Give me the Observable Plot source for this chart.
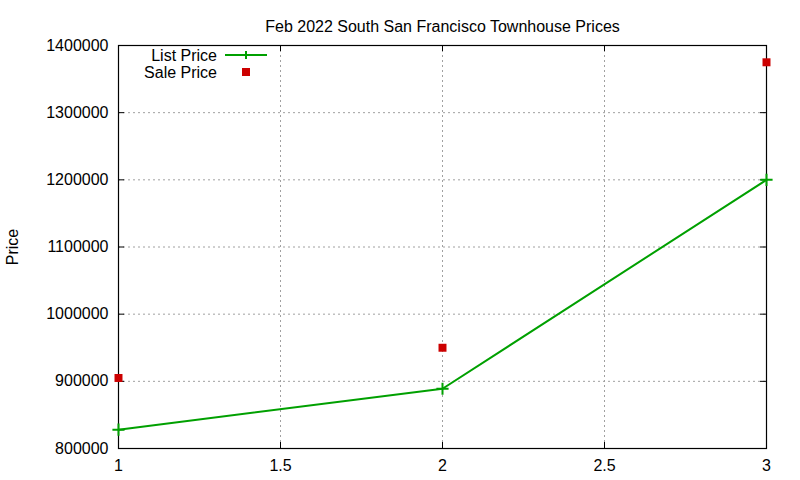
<!DOCTYPE html>
<html>
<head>
<meta charset="utf-8">
<script src="https://cdn.jsdelivr.net/npm/d3@7"></script>
<script src="https://cdn.jsdelivr.net/npm/@observablehq/plot@0.6"></script>
<style>
  html, body { margin: 0; padding: 0; background: #fff; }
  svg { font-family: "Liberation Sans", Arial, sans-serif; }
</style>
</head>
<body>
<div id="chart"></div>
<script>
const title = "Feb 2022 South San Francisco Townhouse Prices";
const bedrooms = [1, 2, 3];
const listPrice = [828000, 889000, 1200000];
const salePrice = [905000, 950000, 1375000];
const xTicks = [1, 1.5, 2, 2.5, 3];
const yTicks = [800000, 900000, 1000000, 1100000, 1200000, 1300000, 1400000];
const seriesNames = ["List Price", "Sale Price"];

const listData = bedrooms.map((b, i) => ({x: b, y: listPrice[i]}));
const saleData = bedrooms.map((b, i) => ({x: b, y: salePrice[i]}));

const green = "#00a000";
const red = "#cc0000";
const W = 800, H = 480, mL = 118, mR = 34, mT = 45, mB = 32;
const fw = W - mL - mR, fh = H - mT - mB;
const tick = 6;

function legend(index, scales, values, dims) {
  const g = d3.create("svg:g");
  const lx = dims.marginLeft;
  const ty = dims.marginTop;
  const rows = [{y: ty + 10, name: seriesNames[0]}, {y: ty + 27, name: seriesNames[1]}];
  rows.forEach((r) => {
    g.append("text").attr("x", lx + 99).attr("y", r.y).attr("dy", "0.35em")
      .attr("text-anchor", "end").attr("font-size", 16).attr("fill", "#000").text(r.name);
  });
  const cx = lx + 128;
  g.append("line").attr("x1", lx + 107).attr("x2", lx + 149).attr("y1", rows[0].y).attr("y2", rows[0].y)
    .attr("stroke", green).attr("stroke-width", 2);
  g.append("path").attr("d", `M${cx - 4},${rows[0].y}H${cx + 4}M${cx},${rows[0].y - 4}V${rows[0].y + 4}`)
    .attr("stroke", green).attr("stroke-width", 2);
  g.append("rect").attr("x", cx - 4).attr("y", rows[1].y - 4).attr("width", 8).attr("height", 8).attr("fill", red);
  return g.node();
}

const chart = Plot.plot({
  width: W, height: H,
  marginLeft: mL, marginRight: mR, marginTop: mT, marginBottom: mB,
  style: {fontFamily: '"Liberation Sans", Arial, sans-serif', fontSize: "16px", color: "#000", background: "#fff"},
  x: {domain: [1, 3]},
  y: {domain: [800000, 1400000]},
  marks: [
    Plot.gridX(xTicks.slice(1, -1), {stroke: "#a0a0a0", strokeOpacity: 1, strokeDasharray: "2,3"}),
    Plot.gridY(yTicks.slice(1, -1), {stroke: "#a0a0a0", strokeOpacity: 1, strokeDasharray: "2,3"}),
    Plot.tickY(yTicks, {y: d => d, stroke: "#000", insetRight: fw - tick}),
    Plot.tickY(yTicks, {y: d => d, stroke: "#000", insetLeft: fw - tick}),
    Plot.tickX(xTicks, {x: d => d, stroke: "#000", insetTop: fh - tick}),
    Plot.tickX(xTicks, {x: d => d, stroke: "#000", insetBottom: fh - tick}),
    Plot.frame({stroke: "#000", strokeWidth: 1.2}),
    Plot.axisY(yTicks, {tickSize: 0, tickPadding: 10, tickFormat: d => String(d), fontSize: 16,
      label: "Price", labelAnchor: "center", labelArrow: "none", labelOffset: 112}),
    Plot.axisX(xTicks, {tickSize: 0, tickPadding: 11, tickFormat: d => String(d), fontSize: 16, label: null}),
    Plot.line(listData, {x: "x", y: "y", stroke: green, strokeWidth: 2}),
    Plot.dot(listData, {x: "x", y: "y", symbol: "plus", r: 4, stroke: green, strokeWidth: 2}),
    Plot.dot(saleData, {x: "x", y: "y", symbol: "square", r: 4.5, fill: red, stroke: "none"}),
    Plot.text([title], {frameAnchor: "top", dy: -25, fontSize: 16, fill: "#000"}),
    legend
  ]
});
document.getElementById("chart").appendChild(chart);
</script>
</body>
</html>
